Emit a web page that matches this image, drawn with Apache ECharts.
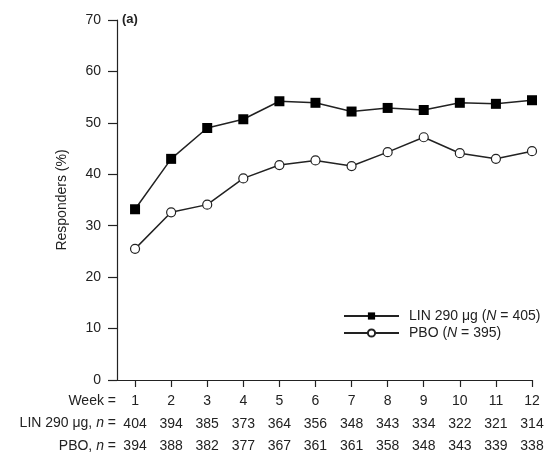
<!DOCTYPE html>
<html><head><meta charset="utf-8">
<script src="https://cdn.jsdelivr.net/npm/echarts@6/dist/echarts.min.js"></script>
<style>html,body{margin:0;padding:0;background:#fff}#c{width:558px;height:452px}</style>
</head><body><div id="c"></div>
<script>
const weeks = [1,2,3,4,5,6,7,8,9,10,11,12];
const linValues = [33.2,43.0,49.0,50.7,54.2,53.9,52.2,52.9,52.5,53.9,53.7,54.4];
const pboValues = [25.5,32.6,34.1,39.2,41.8,42.7,41.6,44.3,47.2,44.1,43.0,44.5];
const linN = [404,394,385,373,364,356,348,343,334,322,321,314];
const pboN = [394,388,382,377,367,361,361,358,348,343,339,338];
const yTicks = [0,10,20,30,40,50,60,70];
const rowHeaders = ['Week =', 'LIN 290 \u03bcg, {i|n} =', 'PBO, {i|n} ='];

const ink = '#222';
const fs = 14;
const font = 'Liberation Sans, Arial, Helvetica, sans-serif';
const chart = echarts.init(document.getElementById('c'));
chart.setOption({
  animation: false,
  textStyle: {fontFamily: font, color: ink},
  grid: {left: 117, right: 26, top: 20, bottom: 72, containLabel: false, outerBoundsMode: 'none'},
  xAxis: {
    type: 'value', min: 0.5, max: 12,
    axisLine: {lineStyle: {color: ink, width: 1.2}},
    axisTick: {customValues: weeks, length: 7, lineStyle: {color: ink, width: 1.2}},
    splitLine: {show: false},
    axisLabel: {
      customValues: weeks, margin: 10, color: ink, fontSize: fs, lineHeight: 22.5,
      fontFamily: font,
      formatter: v => { const i = weeks.indexOf(v); return v + '\n' + linN[i] + '\n' + pboN[i]; }
    }
  },
  yAxis: {
    type: 'value', min: 0, max: 70, interval: 10,
    name: 'Responders (%)', nameLocation: 'middle', nameGap: 48, nameRotate: 90,
    nameTextStyle: {fontSize: fs, color: ink, fontFamily: font},
    axisLine: {show: true, lineStyle: {color: ink, width: 1.2}},
    axisTick: {show: true, length: 9, lineStyle: {color: ink, width: 1.2}},
    splitLine: {show: false},
    axisLabel: {color: ink, fontSize: fs, margin: 16, fontFamily: font,
      customValues: yTicks}
  },
  legend: {
    left: 338, top: 304, orient: 'vertical', itemWidth: 55, itemHeight: 9, itemGap: 3,
    textStyle: {fontSize: fs, color: ink, fontFamily: font, padding: [0, 0, 0, 5],
      rich: {i: {fontStyle: 'italic', fontSize: fs, color: ink, fontFamily: font}}},
    formatter: name => name === 'LIN' ? 'LIN 290 \u03bcg ({i|N} = 405)' : 'PBO ({i|N} = 395)',
    data: ['LIN', 'PBO']
  },
  graphic: rowHeaders.map((t, k) => ({
    type: 'text', right: 558 - 116, top: 394 + k * 22.5,
    style: {
      text: t,
      rich: {i: {fontStyle: 'italic', fontSize: fs, fill: ink, fontFamily: font}},
      fontSize: fs, fill: ink, fontFamily: font, textAlign: 'right'
    }
  })).concat([{
    type: 'text', left: 122, top: 13,
    style: {text: '(a)', fontSize: 13, fontWeight: 'bold', fill: ink, fontFamily: font}
  }]),
  series: [
    {
      name: 'LIN', type: 'line', data: weeks.map((w, i) => [w, linValues[i]]),
      symbol: 'rect', symbolSize: 10,
      lineStyle: {color: ink, width: 1.5},
      itemStyle: {color: '#000', borderColor: '#000', borderWidth: 0}
    },
    {
      name: 'PBO', type: 'line', data: weeks.map((w, i) => [w, pboValues[i]]),
      symbol: 'circle', symbolSize: 9,
      lineStyle: {color: ink, width: 1.5},
      itemStyle: {color: '#fff', borderColor: ink, borderWidth: 1.2}
    }
  ]
});
</script></body></html>
